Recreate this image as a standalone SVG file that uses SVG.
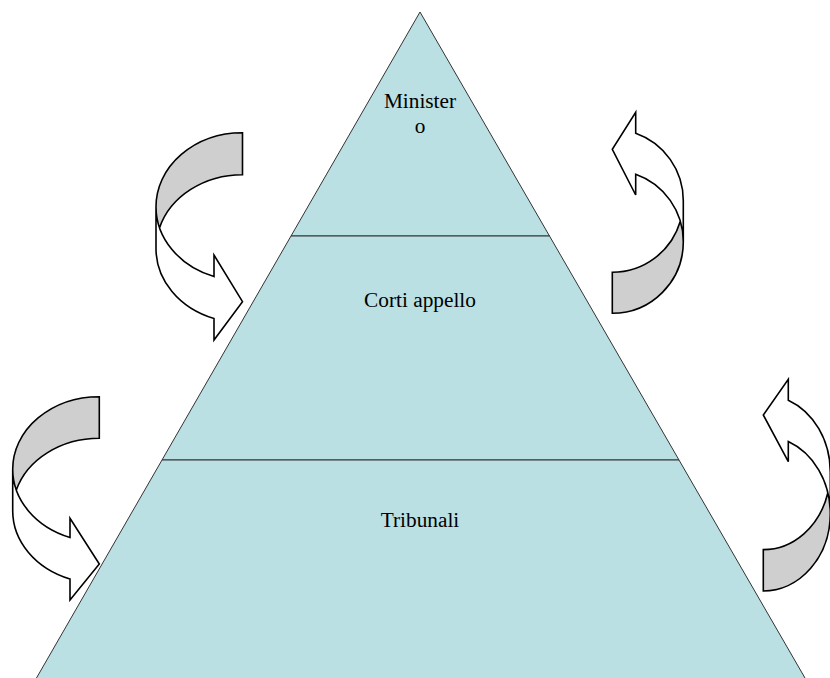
<svg xmlns="http://www.w3.org/2000/svg" width="830" height="678" viewBox="0 0 830 678">
  <style>
    .level { fill: #BBE0E3; stroke: #333333; stroke-width: 1; }
    .label { font-family: "Liberation Serif", "Times New Roman", serif; font-size: 21.3px; fill: #000000; text-anchor: middle; }
    .front { fill: #FFFFFF; stroke: none; }
    .back { fill: #CFCFCF; stroke: none; }
    .outline { fill: none; stroke: #000000; stroke-width: 1.6; stroke-linejoin: miter; }
  </style>
  <rect x="0" y="0" width="830" height="678" fill="#FFFFFF"/>

  <g id="level-ministero">
    <polygon class="level" points="420,12 291,236 549.5,236"/>
    <text class="label" x="420" y="108">Minister</text>
    <text class="label" x="420" y="133">o</text>
  </g>
  <g id="level-corti">
    <polygon class="level" points="291,236 549.5,236 679,460 162,460"/>
    <text class="label" x="420" y="307">Corti appello</text>
  </g>
  <g id="level-tribunali">
    <polygon class="level" points="162,460 679,460 817.7,700 23.8,700"/>
    <text class="label" x="420" y="527">Tribunali</text>
  </g>

  <g id="connectors">
    <g id="arrow-top-left" transform="translate(242.5 132.7)">
      <path class="front" d="M -86.5 74 A 86.5 74 0 0 0 -28.5 143.87 L -28.5 122.3 L 0 169 L -28.5 207.3 L -28.5 185.87 A 86.5 74 0 0 1 -86.5 116 Z"/>
      <path class="back" d="M 0 42 A 86.5 74 0 0 0 -82.94 95 A 86.5 74 0 0 1 0 0 Z"/>
      <path class="outline" d="M -86.5 74 A 86.5 74 0 0 0 -28.5 143.87 L -28.5 122.3 L 0 169 L -28.5 207.3 L -28.5 185.87 A 86.5 74 0 0 1 -86.5 116 L -86.5 74 A 86.5 74 0 0 1 0 0 L 0 42 A 86.5 74 0 0 0 -82.94 95"/>
    </g>
    <g id="arrow-top-right" transform="translate(612.3 313.3) rotate(180)">
      <path class="front" d="M -71 71.5 A 71 71.5 0 0 0 -23.4 139.01 L -23.4 118.3 L 0 164 L -23.4 201 L -23.4 180.01 A 71 71.5 0 0 1 -71 112.5 Z"/>
      <path class="back" d="M 0 41 A 71 71.5 0 0 0 -68.02 92 A 71 71.5 0 0 1 0 0 Z"/>
      <path class="outline" d="M -71 71.5 A 71 71.5 0 0 0 -23.4 139.01 L -23.4 118.3 L 0 164 L -23.4 201 L -23.4 180.01 A 71 71.5 0 0 1 -71 112.5 L -71 71.5 A 71 71.5 0 0 1 0 0 L 0 41 A 71 71.5 0 0 0 -68.02 92"/>
    </g>
    <g id="arrow-bottom-left" transform="translate(99.3 396.7)">
      <path class="front" d="M -86.6 72.5 A 86.6 72.5 0 0 0 -29.3 140.72 L -29.3 121.6 L 0 167.3 L -29.3 203.3 L -29.3 182.22 A 86.6 72.5 0 0 1 -86.6 114 Z"/>
      <path class="back" d="M 0 41.5 A 86.6 72.5 0 0 0 -82.98 93.25 A 86.6 72.5 0 0 1 0 0 Z"/>
      <path class="outline" d="M -86.6 72.5 A 86.6 72.5 0 0 0 -29.3 140.72 L -29.3 121.6 L 0 167.3 L -29.3 203.3 L -29.3 182.22 A 86.6 72.5 0 0 1 -86.6 114 L -86.6 72.5 A 86.6 72.5 0 0 1 0 0 L 0 41.5 A 86.6 72.5 0 0 0 -82.98 93.25"/>
    </g>
    <g id="arrow-bottom-right" transform="translate(763.3 591) rotate(180)">
      <path class="front" d="M -67 77.5 A 67 77.5 0 0 0 -25 149.4 L -25 129.3 L 0 176 L -25 211.7 L -25 190.8 A 67 77.5 0 0 1 -67 118.9 Z"/>
      <path class="back" d="M 0 41.4 A 67 77.5 0 0 0 -64.57 98.2 A 67 77.5 0 0 1 0 0 Z"/>
      <path class="outline" d="M -67 77.5 A 67 77.5 0 0 0 -25 149.4 L -25 129.3 L 0 176 L -25 211.7 L -25 190.8 A 67 77.5 0 0 1 -67 118.9 L -67 77.5 A 67 77.5 0 0 1 0 0 L 0 41.4 A 67 77.5 0 0 0 -64.57 98.2"/>
    </g>
  </g>
</svg>
